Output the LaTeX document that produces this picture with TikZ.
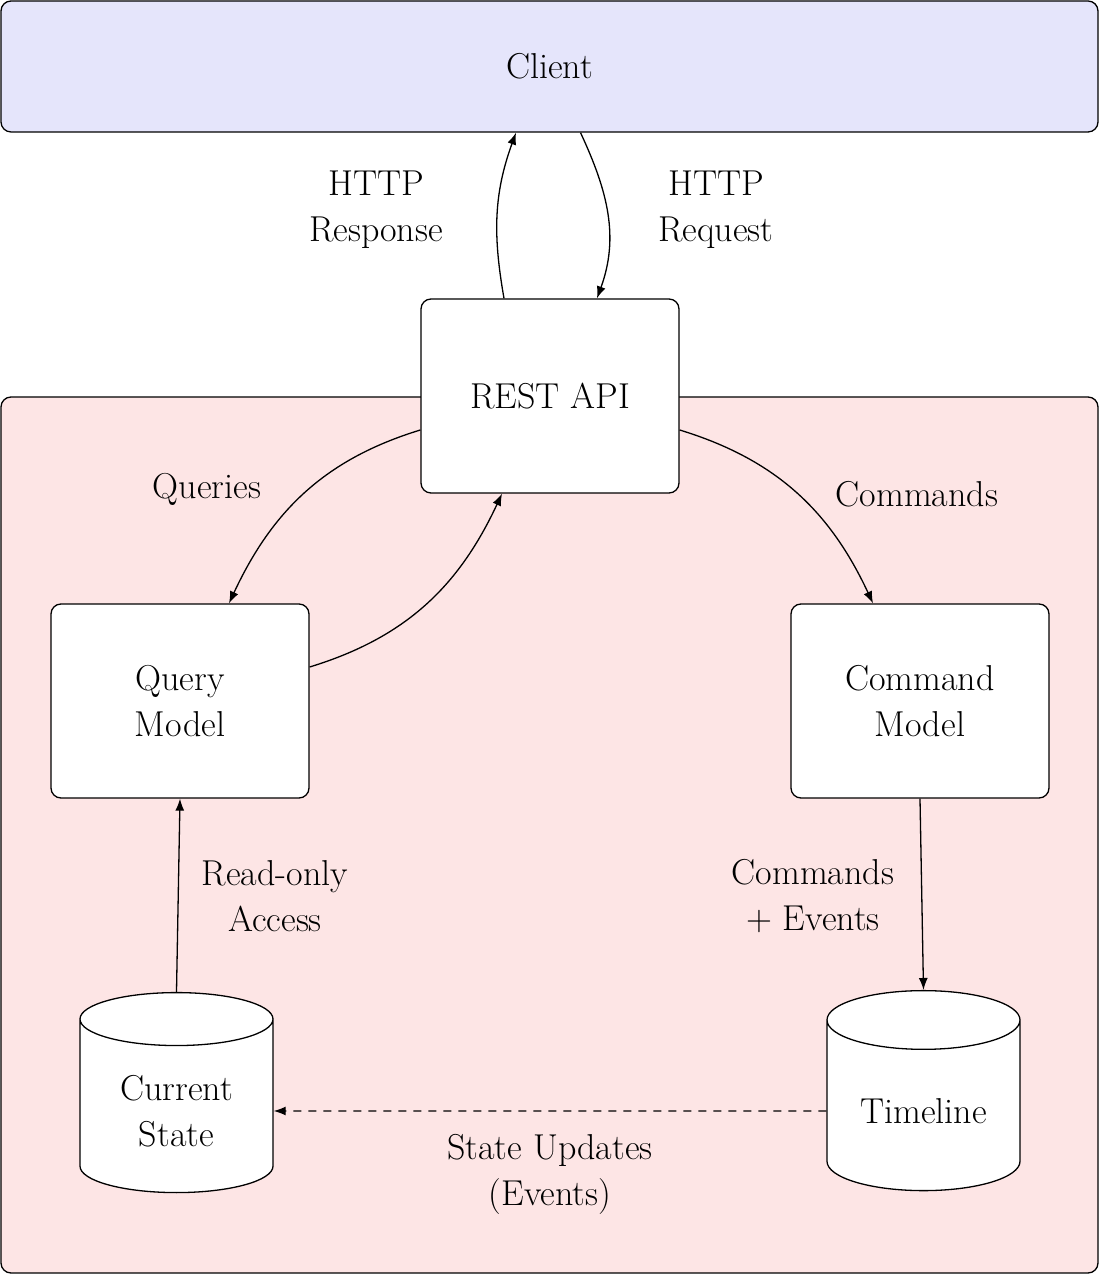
\documentclass[tikz,border=0pt]{standalone}
\usetikzlibrary{shapes.geometric,arrows.meta}
\definecolor{clientblue}{RGB}{229,229,251}
\definecolor{corepink}{RGB}{253,229,229}
\begin{document}
\begin{tikzpicture}[x=0.5pt,y=0.5pt,
  font=\fontsize{18}{23}\selectfont,
  box/.style={draw, rounded corners=5pt, fill=white, minimum width=129pt, minimum height=97pt, align=center, line width=0.65pt},
  db/.style={cylinder, shape border rotate=90, draw, fill=white, aspect=0.42, minimum width=96.5pt, minimum height=100pt, align=center, line width=0.65pt},
  conn/.style={line width=0.65pt, -{Latex[length=6pt,width=4.5pt]}},
  lbl/.style={align=center}]
\useasboundingbox (0,0) rectangle (1099,1275);
\node[draw, rounded corners=5pt, fill=clientblue, minimum width=548.5pt, minimum height=65.5pt, line width=0.65pt] (client) at (549.5,1208.5) {Client};
\node[draw, rounded corners=5pt, fill=corepink, minimum width=548.5pt, minimum height=438pt, line width=0.65pt] (core) at (549.5,440) {};
\node[box] (rest) at (550,879) {REST API};
\node[box] (query) at (180,574) {Query\\Model};
\node[box] (command) at (920,574) {Command\\Model};
\node[db] (current) at (176.5,164) {Current\\State};
\node[db] (timeline) at (923.5,164) {Timeline};

\draw[conn] ([xshift=-23pt]rest.north) to[out=100,in=-110] ([xshift=-16.75pt]client.south);
\draw[conn] ([xshift=15.5pt]client.south) to[out=-65,in=70] ([xshift=23.5pt]rest.north);
\node[lbl] (lresp) at (376,1065) {HTTP\\Response};
\node[lbl] (lreq) at (716,1065) {HTTP\\Request};

\draw[conn] ([yshift=-17pt]rest.west) to[out=197,in=65] ([xshift=24.5pt]query.north);
\node[lbl] (lq) at (207,786) {Queries};
\draw[conn] ([yshift=17pt]query.east) to[out=17,in=-115] ([xshift=-24pt]rest.south);
\draw[conn] ([yshift=-17pt]rest.east) to[out=-17,in=115] ([xshift=-23.5pt]command.north);
\node[lbl] (lc) at (917,781) {Commands};

\draw[conn] (command.south) -- (timeline.north);
\node[lbl] (lce) at (813,379) {Commands\\+ Events};
\draw[conn] (current.north) -- (query.south);
\node[lbl] (lro) at (275,379) {Read-only\\Access};

\draw[conn, dash pattern=on 4pt off 3.5pt] (timeline.west) -- (current.east);
\node[lbl] (lsu) at (550,101) {State Updates\\(Events)};
\end{tikzpicture}
\end{document}
